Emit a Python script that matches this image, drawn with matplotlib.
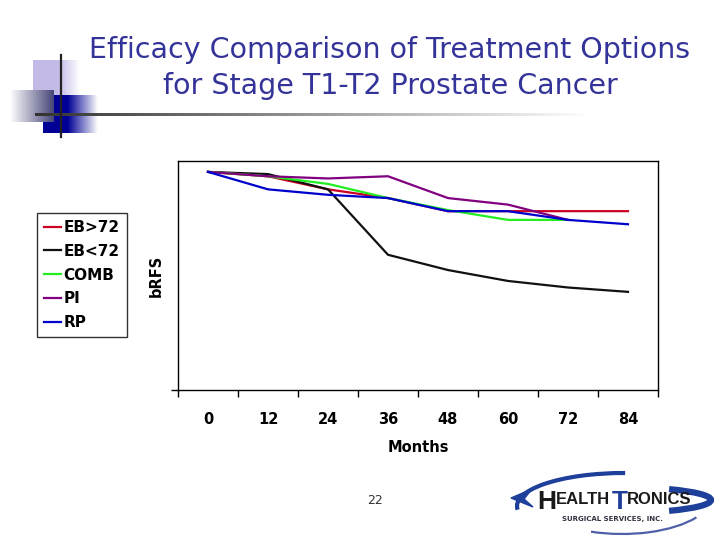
import numpy as np
import matplotlib
matplotlib.use("Agg")
import matplotlib.pyplot as plt
from matplotlib.patches import Arc, Polygon

# data
months = ["0", "12", "24", "36", "48", "60", "72", "84"]
eb_gt72 = [100, 98, 92, 88, 82, 82, 82, 82]
eb_lt72 = [100, 99, 92, 62, 55, 50, 47, 45]
comb = [100, 98, 94.5, 88, 82.5, 78, 78, np.nan]
pi = [100, 98, 97, 98, 88, 85, 78, np.nan]
rp = [100, 92, 89.5, 88, 82, 82, 78, 76]

names = ["EB>72", "EB<72", "COMB", "PI", "RP"]
series = [eb_gt72, eb_lt72, comb, pi, rp]
colors = ["#CC0022", "#111111", "#22EE22", "#800080", "#0000CC"]

W, H = 720, 540
fig = plt.figure(figsize=(7.2, 5.4), dpi=100)

# slide decoration layer (pixel coordinates, y pointing down)
deco = fig.add_axes([0, 0, 1, 1], zorder=0)
deco.axis("off")


def grad_rect(x0, x1, y0, y1, rgb, white):
    # white: fraction of white mixed in, left to right
    img = np.ones((1, len(white), 3))
    c = np.array(rgb) / 255.0
    for k in range(3):
        img[0, :, k] = c[k] * (1 - white) + white
    deco.imshow(img, extent=[x0, x1, y1, y0], aspect="auto", interpolation="bilinear", zorder=1)


t = np.linspace(0, 1, 200)
grad_rect(33, 80, 60, 98, (196, 186, 232), np.clip((t - 0.55) / 0.45, 0, 1))
grad_rect(43, 98, 95, 133, (0, 0, 150), np.clip((t - 0.45) / 0.55, 0, 1))
grad_rect(10, 54, 90, 122, (70, 70, 120), 1 - t)
# horizontal rule fading out
grad_rect(35, 590, 113, 116, (50, 50, 50), t)
deco.plot([61, 61], [55, 137], color="#222222", lw=1.6, zorder=3)
deco.set_xlim(0, W)
deco.set_ylim(H, 0)

deco.text(390, 50, "Efficacy Comparison of Treatment Options", ha="center", va="center",
          fontsize=20.5, color="#333399", zorder=4)
deco.text(390, 86, "for Stage T1-T2 Prostate Cancer", ha="center", va="center",
          fontsize=20.5, color="#333399", zorder=4)

deco.text(375, 501, "22", ha="center", va="center", fontsize=9, color="#333333")

# logo (y axis is flipped, so arc angles are mirrored)
blue = "#1E3F9A"
deco.add_patch(Arc((624, 506), 214, 66, theta1=178, theta2=272, color=blue, lw=3.0, zorder=3))
deco.add_patch(Arc((618, 500), 186, 26, theta1=-12, theta2=12, color=blue, lw=4.5, zorder=3))
deco.add_patch(Arc((622, 496), 180, 76, theta1=16, theta2=131, color="#5060A8", lw=1.6, zorder=3))
deco.add_patch(Polygon([[511, 498], [532, 489], [524, 499], [533, 507]], closed=True,
                       color=blue, zorder=3))
logo_font = "Liberation Sans"
deco.text(537, 509, "H", ha="left", va="baseline", fontsize=19, fontweight="bold",
          color="#1A1A1A", family=logo_font, zorder=4)
deco.text(556, 504, "EALTH", ha="left", va="baseline", fontsize=12, fontweight="bold",
          color="#1A1A1A", family=logo_font, zorder=4)
deco.text(612, 509, "T", ha="left", va="baseline", fontsize=19, fontweight="bold",
          color=blue, family=logo_font, zorder=4)
deco.text(627, 504, "RONICS", ha="left", va="baseline", fontsize=12, fontweight="bold",
          color="#1A1A1A", family=logo_font, zorder=4)
deco.text(613, 519, "SURGICAL SERVICES, INC.", ha="center", va="center", fontsize=5,
          fontweight="bold", color="#333344", zorder=4)

# chart
ax = fig.add_axes([178 / W, 1 - 390 / H, 480 / W, 229 / H], zorder=2)
x = np.arange(len(months))
for name, vals, c in zip(names, series, colors):
    ax.plot(x, vals, color=c, lw=1.6, label=name)

ax.set_xlim(-0.5, len(months) - 0.5)
ax.set_ylim(0, 105)
ax.set_xticks(x)
ax.set_xticklabels(months, fontsize=10.5, fontweight="bold")
ax.set_xticks(np.arange(len(months) + 1) - 0.5, minor=True)
ax.tick_params(axis="x", which="major", length=0, pad=16)
ax.tick_params(axis="x", which="minor", length=5, width=1, direction="out")
ax.set_yticks([0])
ax.set_yticklabels([""])
ax.tick_params(axis="y", length=5, width=1, direction="out")
for s in ax.spines.values():
    s.set_linewidth(1.0)
    s.set_color("black")

ax.set_xlabel("Months", fontsize=10.5, fontweight="bold", labelpad=9)
ax.set_ylabel("bRFS", fontsize=10.5, fontweight="bold", labelpad=2)

leg = fig.legend(loc="upper left", bbox_to_anchor=(37 / W, 1 - 213 / H), frameon=True,
                 fancybox=False, edgecolor="black",
                 prop={"weight": "bold", "size": 11}, handlelength=1.1,
                 handletextpad=0.2, borderpad=0.45, labelspacing=0.58, borderaxespad=0)
leg.get_frame().set_linewidth(1.0)

fig.savefig("out.png", dpi=100)
